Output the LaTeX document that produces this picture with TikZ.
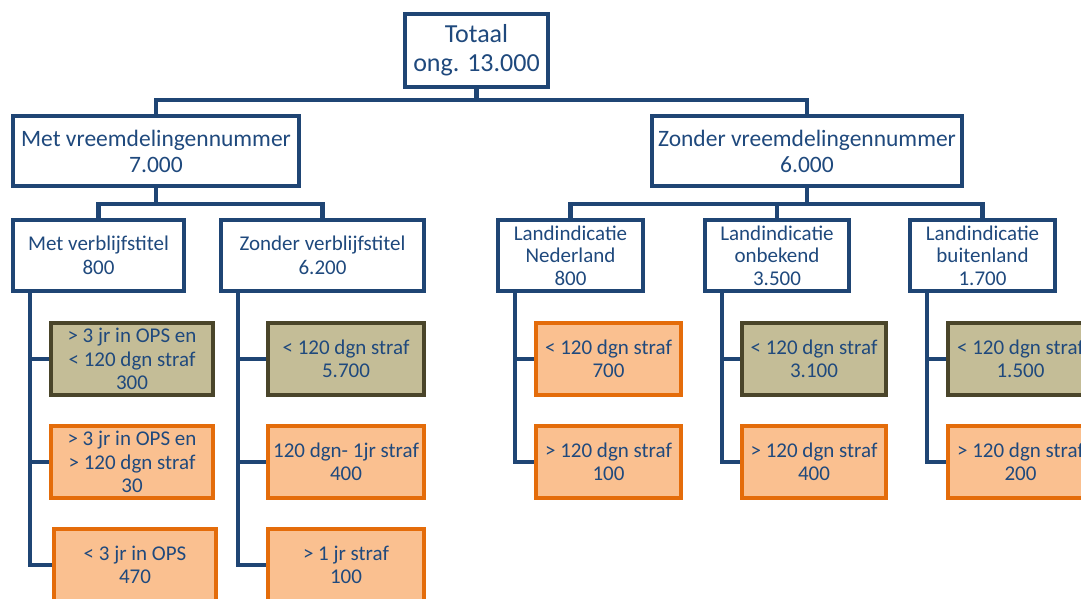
\documentclass[tikz,border=0pt]{standalone}
\usepackage{fontspec}
\setmainfont{Carlito}
\definecolor{lijn}{HTML}{1F4574}
\definecolor{tekst}{HTML}{1F497D}
\definecolor{olijf}{HTML}{C4BD97}
\definecolor{olijfrand}{HTML}{4A452A}
\definecolor{oranje}{HTML}{FAC090}
\definecolor{oranjerand}{HTML}{E46C0A}
\begin{document}
\begin{tikzpicture}[x=1pt, y=-1pt,
        blok/.style={draw=lijn, line width=4pt, fill=white, text=tekst, align=center,
            inner sep=0pt, minimum height=71pt, font=\fontsize{21}{23.5}\selectfont},
        kort/.style={blok, draw=olijfrand, fill=olijf, minimum height=72pt},
        lang/.style={kort, draw=oranjerand, fill=oranje},
        tak/.style={draw=lijn, line width=4.5pt}]
        \useasboundingbox (0,0) rectangle (1081,598);
        \clip (0,0) rectangle (1081,598);
        % Totaal
        \node[blok, font=\fontsize{26}{29}\selectfont, minimum width=143pt, minimum height=73pt]
            (tot) at (476.5,50.5) {Totaal\\ong. 13.000};
        % Vreemdelingennummer
        \node[blok, font=\fontsize{23.5}{26}\selectfont, minimum width=286pt, minimum height=70pt]
            (met) at (156,151) {Met vreemdelingennummer\\7.000};
        \node[blok, font=\fontsize{23.5}{26}\selectfont, minimum width=310pt, minimum height=70pt]
            (zonder) at (807,151) {Zonder vreemdelingennummer\\6.000};
        % Verblijfstitel en landindicatie
        \node[blok, minimum width=171pt] (metvt) at (98.5,255.5) {Met verblijfstitel\\800};
        \node[blok, minimum width=203pt] (zondervt) at (322.5,255.5) {Zonder verblijfstitel\\6.200};
        \node[blok, minimum width=145pt, font=\fontsize{21}{22.5}\selectfont]
            (ned) at (570.5,255.5) {Landindicatie\\Nederland\\800};
        \node[blok, minimum width=144pt, font=\fontsize{21}{22.5}\selectfont]
            (onb) at (777,255.5) {Landindicatie\\onbekend\\3.500};
        \node[blok, minimum width=145pt, font=\fontsize{21}{22.5}\selectfont]
            (bui) at (982.5,255.5) {Landindicatie\\buitenland\\1.700};
        % Straf
        \node[kort, minimum width=162pt] (ca1) at (132,359) {> 3 jr in OPS en\\< 120 dgn straf\\300};
        \node[lang, minimum width=162pt] (ca2) at (132,462) {> 3 jr in OPS en\\> 120 dgn straf\\30};
        \node[lang, minimum width=162pt] (ca3) at (135,565) {< 3 jr in OPS\\470};
        \node[kort, minimum width=156pt] (cb1) at (346,359) {< 120 dgn straf\\5.700};
        \node[lang, minimum width=156pt] (cb2) at (346,462) {120 dgn- 1jr straf\\400};
        \node[lang, minimum width=156pt] (cb3) at (346,565) {> 1 jr straf\\100};
        \node[lang, minimum width=145pt] (cc1) at (608.5,359) {< 120 dgn straf\\700};
        \node[lang, minimum width=145pt] (cc2) at (608.5,462) {> 120 dgn straf\\100};
        \node[kort, minimum width=144pt] (cd1) at (814,359) {< 120 dgn straf\\3.100};
        \node[lang, minimum width=144pt] (cd2) at (814,462) {> 120 dgn straf\\400};
        \node[kort, minimum width=145pt] (ce1) at (1020.5,359) {< 120 dgn straf\\1.500};
        \node[lang, minimum width=145pt] (ce2) at (1020.5,462) {> 120 dgn straf\\200};
        % Takken
        \foreach \k in {met, zonder}
            \draw[tak] (tot.south) -- ++(0,11) -| (\k.north);
        \foreach \k in {metvt, zondervt}
            \draw[tak] (met.south) -- ++(0,16) -| (\k.north);
        \foreach \k in {ned, onb, bui}
            \draw[tak] (zonder.south) -- ++(0,16) -| (\k.north);
        \foreach \p/\kids in {metvt/{ca1,ca2,ca3}, zondervt/{cb1,cb2,cb3},
                ned/{cc1,cc2}, onb/{cd1,cd2}, bui/{ce1,ce2}}
            \foreach \c in \kids
                \draw[tak] ([xshift=19pt]\p.south west) |- (\c.west);
\end{tikzpicture}
\end{document}
